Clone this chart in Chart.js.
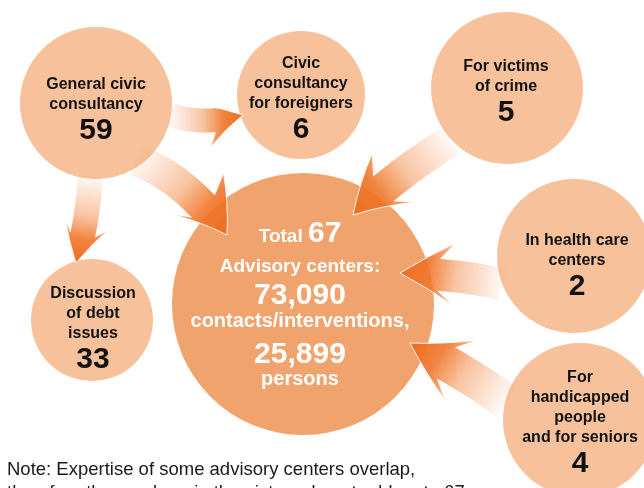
<!DOCTYPE html>
<html>
<head>
<meta charset="utf-8">
<script src="https://cdn.jsdelivr.net/npm/chart.js@4.4.1/dist/chart.umd.min.js"></script>
<style>
  html, body { margin: 0; padding: 0; background: #fff; }
  canvas { display: block; }
</style>
</head>
<body>
<canvas id="chart" width="644" height="488"></canvas>
<script>
// --- data ---
const centerLabels = [
    ["General civic", "consultancy"],
    ["Civic", "consultancy", "for foreigners"],
    ["For victims", "of crime"],
    ["In health care", "centers"],
    ["For", "handicapped", "people", "and for seniors"],
    ["Discussion", "of debt", "issues"]
];
const centerCounts = [59, 6, 5, 2, 4, 33];
const totalCenters = 67;
const totalContacts = 73090;
const totalPersons = 25899;
const noteLines = [
    "Note: Expertise of some advisory centers overlap,",
    "therefore the numbers in the picture do not add up to 67."
];

// --- layout (canvas pixels) ---
const bubbleX = [96, 301, 507, 574, 580, 92];
const bubbleY = [103, 95, 88, 256, 420, 320];
const bubbleR = [76, 64, 76, 77, 77, 61];
const textX = [96, 301, 506, 577, 580, 93];
const textTop = [89, 68, 71, 245, 382, 298];
const totalPos = { x: 303, y: 304, r: 131 };

// arrows: tail, bezier control, tip (all in canvas pixels)
// bend: sideways bow of the head edges, following the shaft curve
const arrows = [
    { from: [170, 115], ctrl: [205, 126], to: [243, 115], w: 24, hl: 40, hw: 22, bend: -3 },
    { from: [136, 160], ctrl: [185, 178], to: [227, 235], w: 32, hl: 52, hw: 34, bend: -4 },
    { from: [90, 176],  ctrl: [89, 215],  to: [76, 263],  w: 25, hl: 40, hw: 22, bend: 2 },
    { from: [452, 140], ctrl: [405, 168], to: [353, 215], w: 32, hl: 56, hw: 33, bend: 4 },
    { from: [502, 285], ctrl: [470, 275], to: [400, 273], w: 32, hl: 54, hw: 31, bend: 2 },
    { from: [507, 402], ctrl: [470, 375], to: [410, 343], w: 36, hl: 58, hw: 34, bend: -3 }
];

const smallColor = "rgb(247,193,155)";
const bigColor = "rgb(241,163,110)";
const FONT = "'Liberation Sans', Arial, Helvetica, sans-serif";

function bez(p0, p1, p2, t) {
    const u = 1 - t;
    return [u * u * p0[0] + 2 * u * t * p1[0] + t * t * p2[0],
            u * u * p0[1] + 2 * u * t * p1[1] + t * t * p2[1]];
}

function drawArrow(ctx, a, px) {
    const p0 = px(a.from), p1 = px(a.ctrl), p2 = px(a.to);
    let dx = p2[0] - p1[0], dy = p2[1] - p1[1];
    const L = Math.hypot(dx, dy); dx /= L; dy /= L;
    const nx = -dy, ny = dx;
    const neck = a.hl * 0.72;

    let tb = 1;
    for (let t = 1; t > 0; t -= 0.005) {
        const q = bez(p0, p1, p2, t);
        if (Math.hypot(q[0] - p2[0], q[1] - p2[1]) >= neck) { tb = t; break; }
    }

    const left = [], right = [];
    const N = 30;
    for (let i = 0; i <= N; i++) {
        const t = tb * i / N;
        const q = bez(p0, p1, p2, t);
        let tx = 2 * (1 - t) * (p1[0] - p0[0]) + 2 * t * (p2[0] - p1[0]);
        let ty = 2 * (1 - t) * (p1[1] - p0[1]) + 2 * t * (p2[1] - p1[1]);
        const l = Math.hypot(tx, ty); tx /= l; ty /= l;
        left.push([q[0] - ty * a.w / 2, q[1] + tx * a.w / 2]);
        right.push([q[0] + ty * a.w / 2, q[1] - tx * a.w / 2]);
    }

    const T = p2;
    const b = a.bend || 0;
    const wl = [T[0] - dx * a.hl + nx * a.hw, T[1] - dy * a.hl + ny * a.hw];
    const wr = [T[0] - dx * a.hl - nx * a.hw, T[1] - dy * a.hl - ny * a.hw];
    const kl = a.hw * 0.5 + b, kr = a.hw * 0.5 - b;
    const cl = [T[0] - dx * a.hl * 0.5 + nx * kl, T[1] - dy * a.hl * 0.5 + ny * kl];
    const cr = [T[0] - dx * a.hl * 0.5 - nx * kr, T[1] - dy * a.hl * 0.5 - ny * kr];

    const grad = ctx.createLinearGradient(p0[0], p0[1], T[0], T[1]);
    grad.addColorStop(0, "rgba(240,125,50,0.04)");
    grad.addColorStop(0.45, "rgba(240,125,50,0.45)");
    grad.addColorStop(0.72, "rgba(239,118,42,0.9)");
    grad.addColorStop(1, "rgba(237,110,32,1)");

    ctx.beginPath();
    ctx.moveTo(left[0][0], left[0][1]);
    left.forEach(p => ctx.lineTo(p[0], p[1]));
    ctx.lineTo(wl[0], wl[1]);
    ctx.quadraticCurveTo(cl[0], cl[1], T[0], T[1]);
    ctx.quadraticCurveTo(cr[0], cr[1], wr[0], wr[1]);
    for (let i = N; i >= 0; i--) ctx.lineTo(right[i][0], right[i][1]);
    ctx.closePath();
    ctx.fillStyle = grad;
    ctx.fill();

    // thin white edge on the head
    ctx.beginPath();
    ctx.moveTo(left[N][0], left[N][1]);
    ctx.lineTo(wl[0], wl[1]);
    ctx.quadraticCurveTo(cl[0], cl[1], T[0], T[1]);
    ctx.quadraticCurveTo(cr[0], cr[1], wr[0], wr[1]);
    ctx.lineTo(right[N][0], right[N][1]);
    ctx.strokeStyle = "rgba(255,255,255,0.9)";
    ctx.lineWidth = 1;
    ctx.stroke();
}

const arrowPlugin = {
    id: "arrows",
    afterDatasetsDraw(chart) {
        const { ctx, scales: { x, y } } = chart;
        const px = p => [x.getPixelForValue(p[0]), y.getPixelForValue(p[1])];
        ctx.save();
        arrows.forEach(a => drawArrow(ctx, a, px));
        ctx.restore();
    }
};

const labelPlugin = {
    id: "labels",
    afterDraw(chart) {
        const { ctx, scales: { x, y } } = chart;
        ctx.save();
        ctx.textAlign = "center";
        ctx.textBaseline = "alphabetic";

        // small bubbles
        ctx.fillStyle = "#111";
        centerLabels.forEach((lines, i) => {
            const cx = x.getPixelForValue(textX[i]);
            let yy = textTop[i];
            ctx.font = "bold 16px " + FONT;
            lines.forEach((s, j) => {
                ctx.fillText(s, cx, y.getPixelForValue(yy + j * 20));
            });
            ctx.font = "bold 30px " + FONT;
            ctx.fillText(String(centerCounts[i]), cx, y.getPixelForValue(yy + (lines.length - 1) * 20 + 30));
        });

        // total bubble
        const cx = x.getPixelForValue(300);
        ctx.fillStyle = "#fff";
        ctx.font = "bold 19px " + FONT;
        const w1 = ctx.measureText("Total ").width;
        ctx.font = "bold 30px " + FONT;
        const w2 = ctx.measureText(String(totalCenters)).width;
        const startX = cx - (w1 + w2) / 2;
        ctx.textAlign = "left";
        ctx.font = "bold 19px " + FONT;
        ctx.fillText("Total ", startX, y.getPixelForValue(242));
        ctx.font = "bold 30px " + FONT;
        ctx.fillText(String(totalCenters), startX + w1, y.getPixelForValue(242));
        ctx.textAlign = "center";
        ctx.font = "bold 19px " + FONT;
        ctx.fillText("Advisory centers:", cx, y.getPixelForValue(272));
        ctx.font = "bold 30px " + FONT;
        ctx.fillText(totalContacts.toLocaleString("en-US"), cx, y.getPixelForValue(304));
        ctx.font = "bold 20px " + FONT;
        ctx.fillText("contacts/interventions,", cx, y.getPixelForValue(327));
        ctx.font = "bold 30px " + FONT;
        ctx.fillText(totalPersons.toLocaleString("en-US"), cx, y.getPixelForValue(363));
        ctx.font = "bold 20px " + FONT;
        ctx.fillText("persons", cx, y.getPixelForValue(385));

        // note
        ctx.fillStyle = "#1a1a1a";
        ctx.textAlign = "left";
        ctx.font = "18.5px " + FONT;
        ctx.fillText(noteLines[0], x.getPixelForValue(7), y.getPixelForValue(475));
        ctx.fillText(noteLines[1], x.getPixelForValue(7), y.getPixelForValue(498));
        ctx.restore();
    }
};

const ctx = document.getElementById("chart").getContext("2d");
window.chart = new Chart(ctx, {
    type: "bubble",
    data: {
        datasets: [
            {
                label: "Total",
                data: [{ x: totalPos.x, y: totalPos.y, r: totalPos.r }],
                backgroundColor: bigColor,
                borderWidth: 0,
                clip: false
            },
            {
                label: "Advisory centers",
                data: centerCounts.map((v, i) => ({ x: bubbleX[i], y: bubbleY[i], r: bubbleR[i] })),
                backgroundColor: smallColor,
                borderWidth: 0,
                clip: false
            }
        ]
    },
    options: {
        responsive: false,
        animation: false,
        events: [],
        layout: { padding: 0, autoPadding: false },
        plugins: { legend: { display: false }, tooltip: { enabled: false } },
        scales: {
            x: { type: "linear", min: 0, max: 644, display: false },
            y: { type: "linear", min: 0, max: 488, reverse: true, display: false }
        }
    },
    plugins: [arrowPlugin, labelPlugin]
});
</script>
</body>
</html>
